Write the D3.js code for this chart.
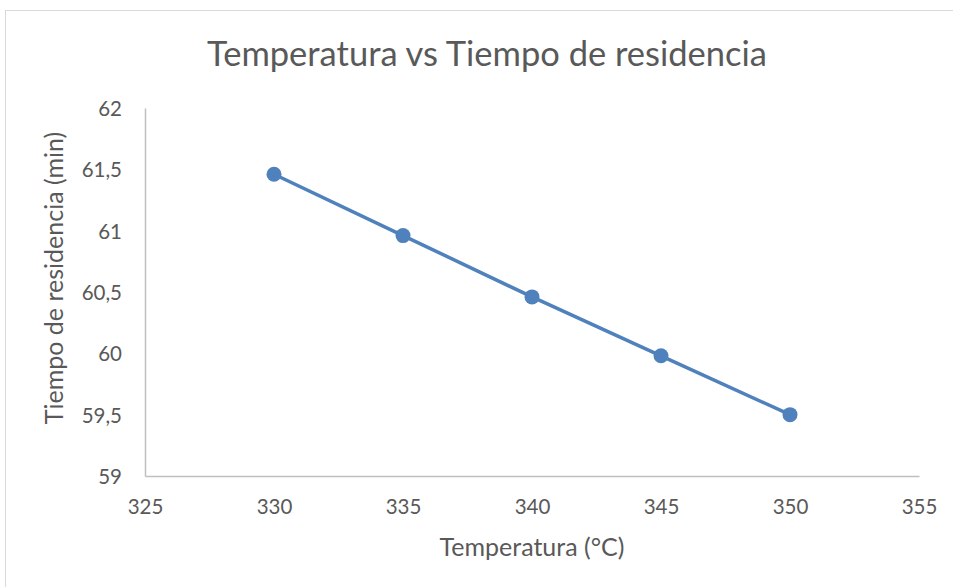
<!DOCTYPE html>
<html>
<head>
<meta charset="utf-8">
<script src="https://cdn.jsdelivr.net/npm/d3@7"></script>
<style>
  html, body { margin: 0; padding: 0; background: #fff; }
  svg { display: block; font-family: Lato, "Open Sans", sans-serif; }
</style>
</head>
<body>
<svg id="chart" width="953" height="587"></svg>
<script>
// Residence time (min) against reactor temperature (°C)
const temperatures = [330, 335, 340, 345, 350];
const residenceTimes = [61.46, 60.96, 60.46, 59.98, 59.50];
const xTicks = [325, 330, 335, 340, 345, 350, 355];
const yTicks = [59, 59.5, 60, 60.5, 61, 61.5, 62];

const titleText = "Temperatura vs Tiempo de residencia";
const xTitle = "Temperatura (°C)";
const yTitle = "Tiempo de residencia (min)";

const W = 953, H = 587;
const plot = { left: 145, right: 919, top: 108, bottom: 476 };
const textColor = "#595959";
const seriesColor = "#4F81BD";

const svg = d3.select("#chart");

// Chart frame
svg.append("rect")
  .attr("x", 5.5).attr("y", 10.5)
  .attr("width", W + 10).attr("height", H + 10)
  .attr("fill", "#fff")
  .attr("stroke", "#d9d9d9").attr("stroke-width", 1);

const x = d3.scaleLinear().domain([325, 355]).range([plot.left, plot.right]);
const y = d3.scaleLinear().domain([59, 62]).range([plot.bottom, plot.top]);

const locale = d3.formatLocale({ decimal: ",", thousands: ".", grouping: [3], currency: ["", ""] });
const fmt = v => locale.format("~g")(v);

// Axes
const xAxis = svg.append("g")
  .attr("transform", `translate(0,${plot.bottom})`)
  .call(d3.axisBottom(x).tickValues(xTicks).tickSize(0).tickPadding(38).tickFormat(d3.format("d")));
const yAxis = svg.append("g")
  .attr("transform", `translate(${plot.left},0)`)
  .call(d3.axisLeft(y).tickValues(yTicks).tickSize(0).tickPadding(23).tickFormat(fmt));

[xAxis, yAxis].forEach(g => {
  g.select(".domain").attr("stroke", "#bfbfbf").attr("stroke-width", 1.5);
  g.selectAll("text")
    .attr("fill", textColor)
    .style("font-size", "20.5px")
    .style("font-family", "Lato, 'Open Sans', sans-serif");
});
xAxis.selectAll("text").attr("dy", "0");
yAxis.selectAll("text").attr("dy", "0.36em");

// Series line and markers
const line = d3.line().x((d, i) => x(temperatures[i])).y(d => y(d));
svg.append("path")
  .datum(residenceTimes)
  .attr("d", line)
  .attr("fill", "none")
  .attr("stroke", seriesColor)
  .attr("stroke-width", 3.5)
  .attr("stroke-linejoin", "round");

svg.append("g").selectAll("circle")
  .data(residenceTimes)
  .join("circle")
  .attr("cx", (d, i) => x(temperatures[i]))
  .attr("cy", d => y(d))
  .attr("r", 7.5)
  .attr("fill", seriesColor);

// Titles
svg.append("text")
  .attr("x", 487).attr("y", 66)
  .attr("text-anchor", "middle")
  .attr("fill", textColor)
  .style("font-size", "34.5px")
  .text(titleText);

svg.append("text")
  .attr("x", 532).attr("y", 556)
  .attr("text-anchor", "middle")
  .attr("fill", textColor)
  .style("font-size", "25px")
  .text(xTitle);

svg.append("text")
  .attr("transform", "translate(63,278) rotate(-90)")
  .attr("text-anchor", "middle")
  .attr("fill", textColor)
  .style("font-size", "25px")
  .text(yTitle);
</script>
</body>
</html>
